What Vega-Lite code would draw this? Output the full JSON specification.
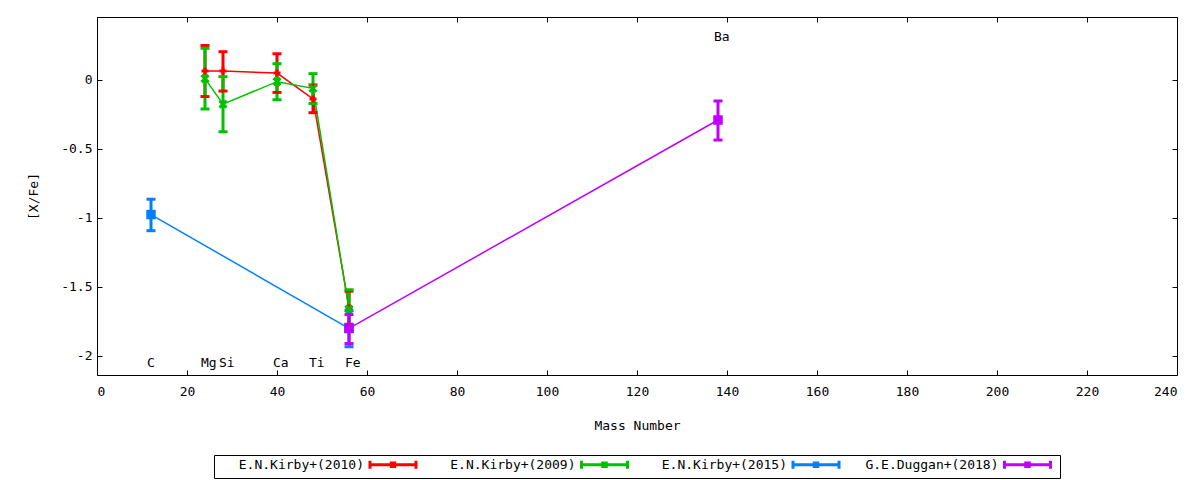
{
  "$schema": "https://vega.github.io/schema/vega-lite/v6.json",
  "width": 1080,
  "height": 358,
  "autosize": {"type": "none"},
  "padding": {"left": 97, "top": 17, "right": 23, "bottom": 105},
  "background": "white",
  "config": {
    "view": {"stroke": "black", "strokeWidth": 1, "fill": "white"},
    "font": "DejaVu Sans Mono",
    "axis": {
      "domain": false,
      "grid": false,
      "tickSize": -5,
      "tickColor": "black",
      "tickWidth": 1,
      "labelFont": "DejaVu Sans Mono",
      "labelFontSize": 13,
      "labelColor": "black",
      "titleFont": "DejaVu Sans Mono",
      "titleFontSize": 13,
      "titleFontWeight": "normal",
      "titleColor": "black"
    },
    "legend": {
      "labelFont": "DejaVu Sans Mono",
      "labelFontSize": 13,
      "labelColor": "black"
    }
  },
  "data": {
    "values": [
      {"series": "E.N.Kirby+(2010)", "el": "Mg", "mass": 24, "v": 0.065, "lo": -0.12, "hi": 0.25},
      {"series": "E.N.Kirby+(2010)", "el": "Si", "mass": 28, "v": 0.065, "lo": -0.08, "hi": 0.205},
      {"series": "E.N.Kirby+(2010)", "el": "Ca", "mass": 40, "v": 0.05, "lo": -0.09, "hi": 0.19},
      {"series": "E.N.Kirby+(2010)", "el": "Ti", "mass": 48, "v": -0.137, "lo": -0.237, "hi": -0.036},
      {"series": "E.N.Kirby+(2010)", "el": "Fe", "mass": 56, "v": -1.65, "lo": -1.77, "hi": -1.53},
      {"series": "E.N.Kirby+(2009)", "el": "Mg", "mass": 24, "v": 0.01, "lo": -0.21, "hi": 0.23},
      {"series": "E.N.Kirby+(2009)", "el": "Si", "mass": 28, "v": -0.175, "lo": -0.375, "hi": 0.024},
      {"series": "E.N.Kirby+(2009)", "el": "Ca", "mass": 40, "v": -0.012, "lo": -0.143, "hi": 0.118},
      {"series": "E.N.Kirby+(2009)", "el": "Ti", "mass": 48, "v": -0.06, "lo": -0.17, "hi": 0.046},
      {"series": "E.N.Kirby+(2009)", "el": "Fe", "mass": 56, "v": -1.66, "lo": -1.78, "hi": -1.52},
      {"series": "E.N.Kirby+(2015)", "el": "C", "mass": 12, "v": -0.975, "lo": -1.092, "hi": -0.864},
      {"series": "E.N.Kirby+(2015)", "el": "Fe", "mass": 56, "v": -1.8, "lo": -1.933, "hi": -1.67},
      {"series": "G.E.Duggan+(2018)", "el": "Fe", "mass": 56, "v": -1.8, "lo": -1.91, "hi": -1.7},
      {"series": "G.E.Duggan+(2018)", "el": "Ba", "mass": 138, "v": -0.29, "lo": -0.435, "hi": -0.152}
    ]
  },
  "layer": [
    {
      "mark": {"type": "line", "strokeWidth": 1.5, "opacity": 1},
      "encoding": {
        "x": {"field": "mass", "type": "quantitative", "scale": {"domain": [0, 240], "nice": false, "zero": false},
              "axis": {"orient": "bottom", "values": [0, 20, 40, 60, 80, 100, 120, 140, 160, 180, 200, 220, 240], "labelPadding": 15, "title": "Mass Number", "titleY": 50, "titleBaseline": "middle"}},
        "y": {"field": "v", "type": "quantitative", "scale": {"domain": [-2.1377, 0.4565], "nice": false, "zero": false},
              "axis": {"orient": "left", "values": [-2, -1.5, -1, -0.5, 0], "labelExpr": "'' + datum.value", "labelPadding": 10, "title": "[X/Fe]", "titleX": -64, "titleY": 179, "titleAngle": -90, "titleAlign": "center", "titleBaseline": "middle"}},
        "color": {"field": "series", "type": "nominal",
                  "scale": {"domain": ["E.N.Kirby+(2010)", "E.N.Kirby+(2009)", "E.N.Kirby+(2015)", "G.E.Duggan+(2018)"], "range": ["#ff0000", "#00c000", "#0080ff", "#c000ff"]},
                  "legend": {"title": null, "orient": "none", "direction": "horizontal", "legendX": 117, "legendY": 438,
                             "strokeColor": "black", "padding": 3,
                             "symbolType": "M-4.6,0H4.6M-4.6,-0.8V0.8M4.6,-0.8V0.8M-0.35,-0.35H0.35V0.35H-0.35Z",
                             "symbolSize": 100, "symbolStrokeWidth": 3, "symbolOpacity": 1, "symbolOffset": 169.5,
                             "labelAlign": "right", "labelOffset": -35.5, "labelLimit": 300, "columnPadding": 6.5}}
      }
    },
    {
      "mark": {"type": "rule", "strokeWidth": 3, "opacity": 1},
      "encoding": {
        "x": {"field": "mass", "type": "quantitative", "scale": {"domain": [0, 240], "nice": false, "zero": false}, "axis": null},
        "y": {"field": "lo", "type": "quantitative", "scale": {"domain": [-2.1377, 0.4565], "nice": false, "zero": false}, "axis": null},
        "y2": {"field": "hi"},
        "color": {"field": "series", "type": "nominal"}
      }
    },
    {
      "mark": {"type": "tick", "orient": "horizontal", "size": 9, "thickness": 3, "opacity": 1},
      "encoding": {
        "x": {"field": "mass", "type": "quantitative", "scale": {"domain": [0, 240], "nice": false, "zero": false}, "axis": null},
        "y": {"field": "lo", "type": "quantitative", "scale": {"domain": [-2.1377, 0.4565], "nice": false, "zero": false}, "axis": null},
        "color": {"field": "series", "type": "nominal"}
      }
    },
    {
      "mark": {"type": "tick", "orient": "horizontal", "size": 9, "thickness": 3, "opacity": 1},
      "encoding": {
        "x": {"field": "mass", "type": "quantitative", "scale": {"domain": [0, 240], "nice": false, "zero": false}, "axis": null},
        "y": {"field": "hi", "type": "quantitative", "scale": {"domain": [-2.1377, 0.4565], "nice": false, "zero": false}, "axis": null},
        "color": {"field": "series", "type": "nominal"}
      }
    },
    {
      "transform": [{"filter": "datum.series == 'E.N.Kirby+(2010)'"}],
      "mark": {"type": "point", "filled": false, "strokeWidth": 3, "size": 49, "opacity": 1, "color": "#ff0000", "shape": "M-1,0H1M0,-1V1"},
      "encoding": {
        "x": {"field": "mass", "type": "quantitative", "scale": {"domain": [0, 240], "nice": false, "zero": false},
              "axis": {"orient": "top", "values": [0, 20, 40, 60, 80, 100, 120, 140, 160, 180, 200, 220, 240], "labels": false, "title": null}},
        "y": {"field": "v", "type": "quantitative", "scale": {"domain": [-2.1377, 0.4565], "nice": false, "zero": false},
              "axis": {"orient": "right", "values": [-2, -1.5, -1, -0.5, 0], "labels": false, "title": null}}
      }
    },
    {
      "transform": [{"filter": "datum.series == 'E.N.Kirby+(2009)'"}],
      "mark": {"type": "point", "filled": false, "strokeWidth": 3, "size": 49, "opacity": 1, "color": "#00c000", "shape": "M-1,-1L1,1M-1,1L1,-1"},
      "encoding": {
        "x": {"field": "mass", "type": "quantitative", "scale": {"domain": [0, 240], "nice": false, "zero": false}, "axis": null},
        "y": {"field": "v", "type": "quantitative", "scale": {"domain": [-2.1377, 0.4565], "nice": false, "zero": false}, "axis": null}
      }
    },
    {
      "transform": [{"filter": "datum.series == 'E.N.Kirby+(2015)'"}],
      "mark": {"type": "point", "filled": true, "size": 90, "opacity": 1, "color": "#0080ff", "shape": "square"},
      "encoding": {
        "x": {"field": "mass", "type": "quantitative", "scale": {"domain": [0, 240], "nice": false, "zero": false}, "axis": null},
        "y": {"field": "v", "type": "quantitative", "scale": {"domain": [-2.1377, 0.4565], "nice": false, "zero": false}, "axis": null}
      }
    },
    {
      "transform": [{"filter": "datum.series == 'G.E.Duggan+(2018)'"}],
      "mark": {"type": "point", "filled": true, "size": 90, "opacity": 1, "color": "#c000ff", "shape": "square"},
      "encoding": {
        "x": {"field": "mass", "type": "quantitative", "scale": {"domain": [0, 240], "nice": false, "zero": false}, "axis": null},
        "y": {"field": "v", "type": "quantitative", "scale": {"domain": [-2.1377, 0.4565], "nice": false, "zero": false}, "axis": null}
      }
    },
    {
      "data": {
        "values": [
          {"label": "C", "mass": 12, "ly": -2.05},
          {"label": "Mg", "mass": 24, "ly": -2.05},
          {"label": "Si", "mass": 28, "ly": -2.05},
          {"label": "Ca", "mass": 40, "ly": -2.05},
          {"label": "Ti", "mass": 48, "ly": -2.05},
          {"label": "Fe", "mass": 56, "ly": -2.05},
          {"label": "Ba", "mass": 138, "ly": 0.31}
        ]
      },
      "mark": {"type": "text", "align": "left", "baseline": "middle", "dx": -4, "font": "DejaVu Sans Mono", "fontSize": 13, "color": "black"},
      "encoding": {
        "x": {"field": "mass", "type": "quantitative", "scale": {"domain": [0, 240], "nice": false, "zero": false}, "axis": null},
        "y": {"field": "ly", "type": "quantitative", "scale": {"domain": [-2.1377, 0.4565], "nice": false, "zero": false}, "axis": null},
        "text": {"field": "label", "type": "nominal"}
      }
    }
  ],
  "resolve": {"axis": {"x": "independent", "y": "independent"}}
}
